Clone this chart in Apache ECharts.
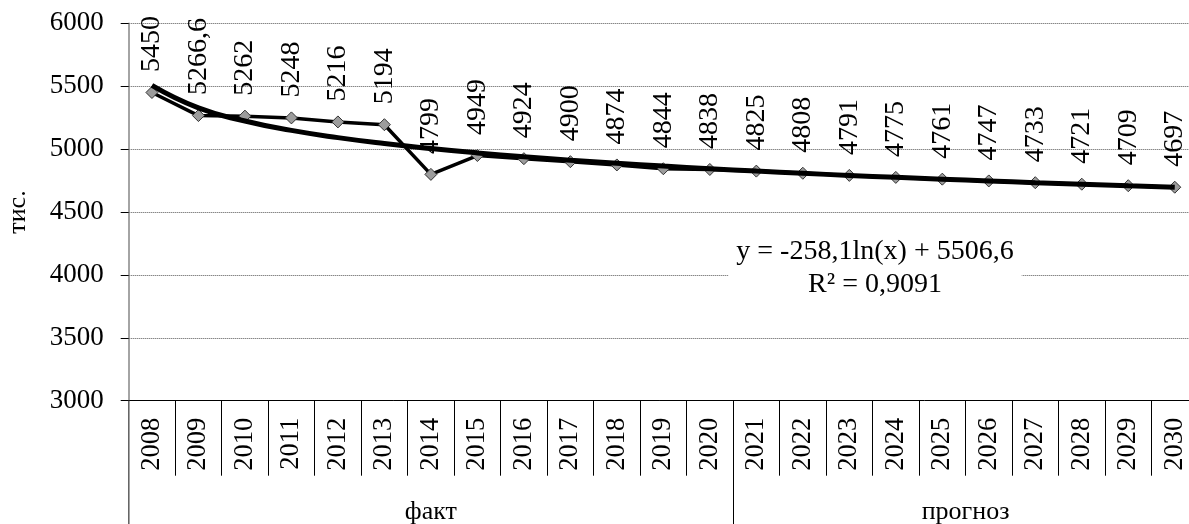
<!DOCTYPE html>
<html>
<head>
<meta charset="utf-8">
<script src="https://cdn.jsdelivr.net/npm/echarts@6/dist/echarts.min.js"></script>
<style>
  html, body { margin: 0; padding: 0; background: #fff; }
  #chart { width: 1189px; height: 524px; }
</style>
</head>
<body>
<div id="chart"></div>
<script>
// роки
var years = ["2008", "2009", "2010", "2011", "2012", "2013", "2014", "2015", "2016", "2017", "2018", "2019",
  "2020", "2021", "2022", "2023", "2024", "2025", "2026", "2027", "2028", "2029", "2030"];
// факт + прогноз
var values = [5450, 5266.6, 5262, 5248, 5216, 5194, 4799, 4949, 4924, 4900, 4874, 4844,
  4838, 4825, 4808, 4791, 4775, 4761, 4747, 4733, 4721, 4709, 4697];
// логарифмічний тренд (зчитано з кривої)
var trend = [5506.6, 5327.7, 5223.1, 5148.8, 5091.2, 5044.1, 5004.4, 4969.9, 4939.5, 4912.3, 4887.7, 4865.2,
  4844.6, 4825.4, 4807.6, 4791.0, 4775.4, 4760.6, 4746.6, 4733.4, 4720.8, 4708.8, 4697.3];
// групи
var groupNames = ["факт", "прогноз"];
var factCount = 13; // 2008-2020
var yTicks = [3000, 3500, 4000, 4500, 5000, 5500, 6000];
var equation = "y = -258,1ln(x) + 5506,6\nR² = 0,9091";

var font = "'Liberation Serif', 'Times New Roman', serif";
var n = years.length;

var chart = echarts.init(document.getElementById("chart"));
var option = {
  animation: false,
  backgroundColor: "#fff",
  grid: {
    left: 128.7,
    right: -9,
    top: 23.3,
    bottom: 123.3,
    containLabel: false,
    outerBoundsMode: "none"
  },
  xAxis: [
    {
      // роки
      type: "category",
      position: "bottom",
      data: years,
      axisLine: { onZero: false, lineStyle: { color: "#000", width: 1 } },
      axisTick: { show: true, interval: 0, length: 75, lineStyle: { color: "#000", width: 1 } },
      axisLabel: {
        interval: 0,
        rotate: 90,
        margin: 17,
        color: "#000",
        fontFamily: font,
        fontSize: 26.5
      },
      splitLine: { show: false }
    },
    {
      // межа факт / прогноз (0 і 13, щоб тики стали на межі категорій)
      type: "category",
      position: "bottom",
      data: years,
      axisLine: { show: false, onZero: false },
      axisTick: {
        show: true,
        length: 124,
        interval: function (index) { return index === 0 || index === factCount; },
        lineStyle: { color: "#000", width: 1 }
      },
      axisLabel: { show: false },
      splitLine: { show: false }
    },
    {
      // продовження лівої осі (сіра)
      type: "value",
      position: "bottom",
      min: 0,
      max: n,
      interval: n,
      z: 2,
      axisLine: { show: false, onZero: false },
      axisTick: { show: true, length: 124, lineStyle: { color: "#868686", width: 1.5 } },
      axisLabel: { show: false },
      splitLine: { show: false }
    },
    {
      // підписи груп
      type: "value",
      position: "bottom",
      min: 0,
      max: n,
      interval: 0.5,
      axisLine: { show: false, onZero: false },
      axisTick: { show: false },
      axisLabel: {
        margin: 98,
        color: "#000",
        fontFamily: font,
        fontSize: 26,
        showMinLabel: true,
        showMaxLabel: true,
        formatter: function (v) {
          if (v === factCount / 2) return groupNames[0];
          if (v === factCount + (n - factCount) / 2) return groupNames[1];
          return "";
        }
      },
      splitLine: { show: false }
    }
  ],
  yAxis: {
    type: "value",
    min: yTicks[0],
    max: yTicks[yTicks.length - 1],
    interval: 500,
    name: "тис.",
    nameLocation: "middle",
    nameRotate: 90,
    nameGap: 98,
    nameTextStyle: { color: "#000", fontFamily: font, fontSize: 26 },
    axisLine: { show: true, onZero: false, lineStyle: { color: "#868686", width: 1.5 } },
    axisTick: { show: true, length: 8, lineStyle: { color: "#000", width: 1 } },
    axisLabel: {
      margin: 25,
      color: "#000",
      fontFamily: font,
      fontSize: 27,
      formatter: function (v) { return String(v); }
    },
    splitLine: { show: true, lineStyle: { color: "#555", type: "dotted", width: 1 } }
  },
  series: [
    {
      name: "дані",
      type: "line",
      data: values,
      symbol: "diamond",
      symbolSize: 12,
      lineStyle: { color: "#000", width: 3.5 },
      itemStyle: { color: "#9c9c9c", borderColor: "#333", borderWidth: 1 },
      label: {
        show: true,
        position: "top",
        distance: 14,
        rotate: 90,
        align: "left",
        verticalAlign: "middle",
        color: "#000",
        fontFamily: font,
        fontSize: 28,
        formatter: function (p) { return String(p.value).replace(".", ","); }
      },
      z: 2
    },
    {
      name: "тренд",
      type: "line",
      data: trend,
      smooth: true,
      symbol: "none",
      lineStyle: { color: "#000", width: 5 },
      z: 3
    }
  ],
  graphic: [
    {
      type: "text",
      x: 875,
      y: 233,
      z: 10,
      style: {
        text: equation,
        fontFamily: font,
        fontSize: 28,
        lineHeight: 33,
        fill: "#000",
        align: "center",
        backgroundColor: "#fff",
        padding: [2, 8, 2, 8]
      }
    }
  ]
};
chart.setOption(option);
</script>
</body>
</html>
